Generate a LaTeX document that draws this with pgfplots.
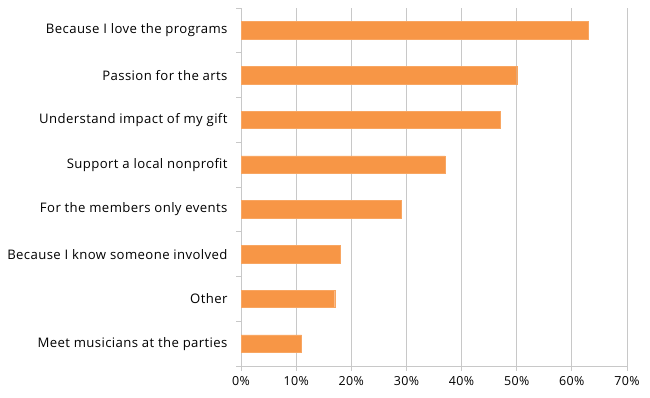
\documentclass[border=0pt]{standalone}
\usepackage{pgfplots}
\pgfplotsset{compat=1.18}
\usepackage{fontspec}
\setmainfont{Open Sans}[LetterSpace=3]
\definecolor{barorange}{HTML}{F79646}
\definecolor{gridgray}{HTML}{C8C8C8}
\begin{document}
\begin{tikzpicture}[x=1bp,y=1bp]
\path[use as bounding box] (0,0) rectangle (650,397);
\begin{axis}[
  at={(241bp,31bp)}, anchor=south west,
  scale only axis,
  width=386bp, height=358bp,
  xmin=0, xmax=70,
  ymin=-0.5, ymax=7.5,
  xbar, bar width=17.5bp,
  bar shift=0pt,
  xtick={0,10,...,70},
  xticklabel={\pgfmathprintnumber{\tick}\%},
  /pgf/number format/assume math mode=true,
  ytick={0,...,7},
  yticklabels={Meet musicians at the parties,Other,Because I know someone involved,For the members only events,Support a local nonprofit,Understand impact of my gift,Passion for the arts,Because I love the programs},
  minor ytick={-0.5,0.5,...,7.5},
  major y tick style={draw=none},
  minor y tick style={gridgray, line width=0.8pt},
  x tick style={gridgray, line width=0.8pt},
  tick align=outside,
  major tick length=5bp, minor tick length=5bp,
  xmajorgrids,
  grid style={gridgray, line width=0.9pt},
  axis x line*=bottom, axis y line*=left,
  axis line style={gridgray, line width=0.9pt},
  yticklabel style={font=\fontsize{13.2}{15}\selectfont, text=black, xshift=-5bp},
  xticklabel style={font=\fontsize{12.5}{14}\selectfont, text=black, yshift=-2bp},
  clip=false,
]
\addplot[fill=barorange, draw=barorange!85!white] coordinates {
  (11,0) (17,1) (18,2) (29,3) (37,4) (47,5) (50,6) (63,7)
};
\end{axis}
\end{tikzpicture}
\end{document}
